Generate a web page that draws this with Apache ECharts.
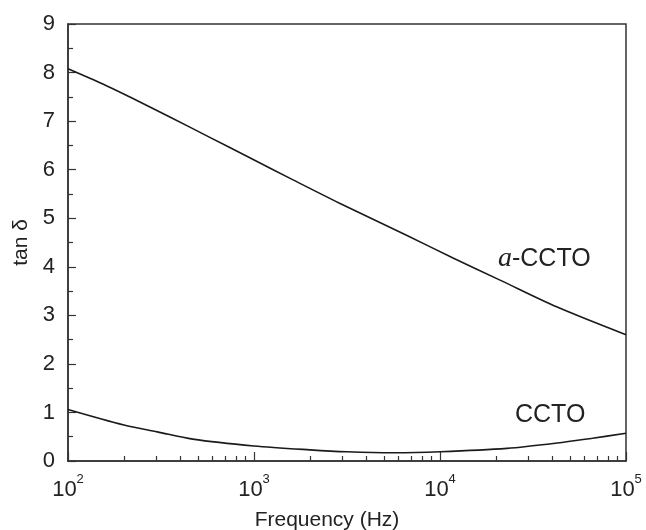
<!DOCTYPE html>
<html>
<head>
<meta charset="utf-8">
<script src="https://cdn.jsdelivr.net/npm/echarts@6/dist/echarts.min.js"></script>
<style>html,body{margin:0;padding:0;background:#fff}#c{width:646px;height:530px}</style>
</head>
<body>
<div id="c"></div>
<script>
// Frequency (Hz) and tan δ values
var aCctoFreq = [100, 155, 214, 355, 575, 955, 1622, 2884, 6607, 11750, 20893, 42658, 100000];
var aCctoTan  = [8.08, 7.76, 7.50, 7.08, 6.67, 6.24, 5.79, 5.31, 4.65, 4.18, 3.73, 3.17, 2.60];
var cctoFreq  = [100, 200, 302, 468, 1000, 1995, 3162, 5623, 10000, 22909, 42658, 66069, 100000];
var cctoTan   = [1.06, 0.74, 0.60, 0.45, 0.31, 0.23, 0.19, 0.17, 0.19, 0.26, 0.37, 0.47, 0.57];
var xMajorTicks = [100, 1000, 10000, 100000];
var xMinorTicks = [200,300,400,500,600,700,800,900,2000,3000,4000,5000,6000,7000,8000,9000,20000,30000,40000,50000,60000,70000,80000,90000];
var seriesNames = ['a-CCTO', 'CCTO'];

var FONT = '"Liberation Sans", Arial, sans-serif';
var TXT = '#222';

function zip(xs, ys){ return xs.map(function(x,i){ return [x, ys[i]]; }); }

var chart = echarts.init(document.getElementById('c'), null, {renderer:'canvas'});
var option = {
  animation: false,
  backgroundColor: '#fff',
  grid: { left: 68, right: 20, top: 24, bottom: 69, containLabel: false, outerBoundsMode: 'none', show: true, borderColor: '#333', borderWidth: 1.5, backgroundColor: 'transparent' },
  xAxis: [{
    type: 'log', logBase: 10, min: 100, max: 100000,
    name: 'Frequency (Hz)', nameLocation: 'middle', nameGap: 49,
    nameTextStyle: { fontFamily: FONT, fontSize: 21, color: TXT, padding: [0, 40, 0, 0] },
    axisLine: { show: true, lineStyle: { color: '#333', width: 1.5 } },
    axisTick: { show: true, inside: true, length: 9, lineStyle: { color: '#333', width: 1.2 }, customValues: xMajorTicks },
    minorTick: { show: false },
    splitLine: { show: false },
    axisLabel: {
      margin: 12, customValues: xMajorTicks,
      formatter: function(v){ var e = Math.round(Math.log10(v)); return '{b|10}{s|' + e + '}'; },
      rich: {
        b: { fontFamily: FONT, fontSize: 22, color: TXT, padding: [6,0,0,0] },
        s: { fontFamily: FONT, fontSize: 13, color: TXT, verticalAlign: 'top', padding: [0,0,8,0] }
      }
    }
  }, {
    type: 'log', logBase: 10, min: 100, max: 100000, position: 'bottom', gridIndex: 0,
    axisLine: { show: false },
    axisTick: { show: true, inside: true, length: 5, lineStyle: { color: '#333', width: 1.2 }, customValues: xMinorTicks },
    axisLabel: { show: false },
    splitLine: { show: false }
  }],
  yAxis: {
    type: 'value', min: 0, max: 9, interval: 1,
    name: 'tan δ', nameLocation: 'middle', nameGap: 36,
    nameTextStyle: { fontFamily: FONT, fontSize: 21, color: TXT },
    axisLine: { show: true, lineStyle: { color: '#333', width: 1.5 } },
    axisTick: { show: true, inside: true, length: 8, lineStyle: { color: '#333', width: 1.2 } },
    minorTick: { show: true, splitNumber: 2, length: 5, lineStyle: { color: '#333', width: 1.2 } },
    splitLine: { show: false },
    axisLabel: { margin: 13, fontFamily: FONT, fontSize: 22, color: TXT }
  },
  series: [{
    name: seriesNames[0], type: 'line', xAxisIndex: 0, data: zip(aCctoFreq, aCctoTan),
    smooth: 0.3, showSymbol: false, lineStyle: { color: '#1a1a1a', width: 1.6 }
  }, {
    name: seriesNames[1], type: 'line', xAxisIndex: 0, data: zip(cctoFreq, cctoTan),
    smooth: 0.3, showSymbol: false, lineStyle: { color: '#1a1a1a', width: 1.6 }
  }]
};
chart.setOption(option);

var p1 = chart.convertToPixel({xAxisIndex:0, yAxisIndex:0}, [20500, 4.16]);
var p2 = chart.convertToPixel({xAxisIndex:0, yAxisIndex:0}, [25300, 0.95]);
chart.setOption({
  graphic: [{
    type: 'text', x: p1[0], y: p1[1],
    style: { rich: { i: { fontFamily: '"Liberation Serif", serif', fontStyle: 'italic', fontSize: 28, fill: TXT }, n: { fontFamily: FONT, fontSize: 25, fill: TXT } },
      text: '{i|a}{n|-CCTO}', fill: TXT, verticalAlign: 'middle', align: 'left' }
  }, {
    type: 'text', x: p2[0], y: p2[1],
    style: { text: 'CCTO', fontFamily: FONT, fontSize: 25, fill: TXT, verticalAlign: 'middle', align: 'left' }
  }]
});
</script>
</body>
</html>
